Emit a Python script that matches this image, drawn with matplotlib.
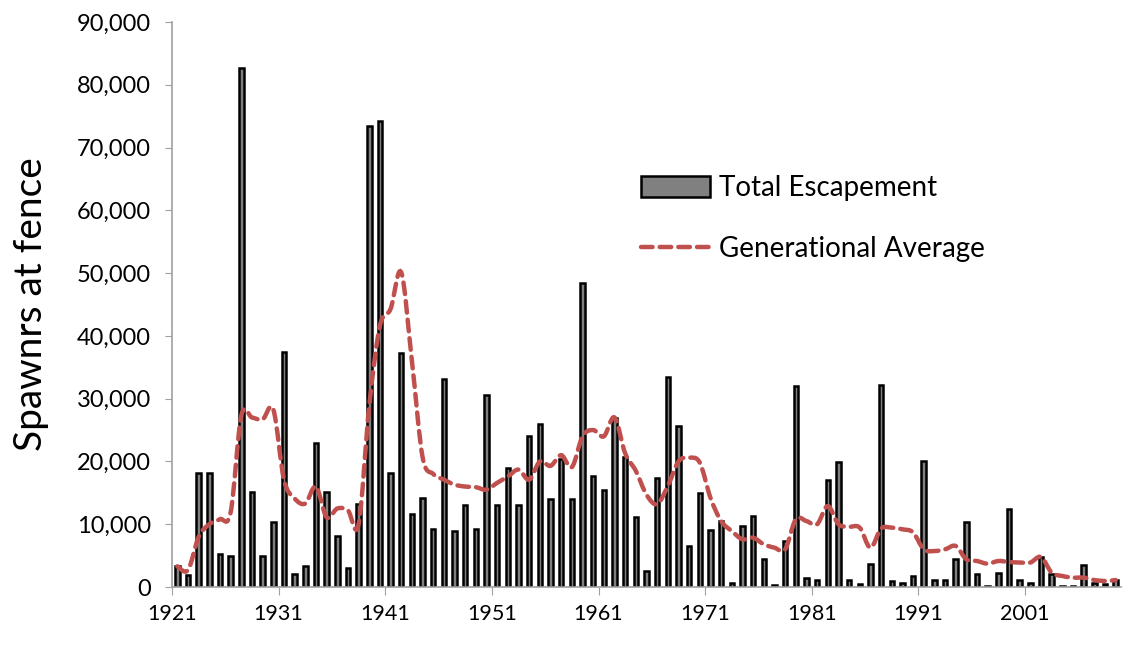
import matplotlib
matplotlib.use('Agg')
import matplotlib.pyplot as plt
from matplotlib.path import Path
from matplotlib.patches import PathPatch, Patch
from matplotlib.lines import Line2D
from matplotlib.ticker import FuncFormatter, FixedLocator

plt.rcParams['font.family'] = ['Lato', 'DejaVu Sans']

years = list(range(1921, 2010))

escapement = [
    3350, 1900, 18200, 18100, 5300, 4900, 82700, 15200, 4900, 10300,    # 1921-1930
    37400, 2000, 3300, 22900, 15200, 8200, 3000, 13200, 73500, 74200,   # 1931-1940
    18100, 37300, 11700, 14200, 9200, 33200, 8900, 13000, 9300, 30600,  # 1941-1950
    13000, 18900, 13000, 24100, 25900, 14000, 20400, 14000, 48500, 17700,  # 1951-1960
    15500, 27000, 20700, 11100, 2600, 17400, 33400, 25600, 6600, 15000,  # 1961-1970
    9100, 10500, 700, 9700, 11300, 4400, 300, 7300, 32000, 1500,        # 1971-1980
    1100, 17000, 19900, 1100, 500, 3600, 32100, 950, 600, 1750,         # 1981-1990
    20100, 1100, 1100, 4400, 10400, 2000, 150, 2200, 12400, 1100,       # 1991-2000
    600, 4700, 2100, 150, 150, 3450, 700, 400, 1050,                    # 2001-2009
]

gen_average = [
    3300, 2700, 8000, 10000, 10800, 11900, 27300, 27000, 26700, 28300,
    17100, 14100, 13300, 16000, 11100, 12500, 12200, 10000, 28900, 41600,
    44300, 50100, 36000, 20700, 18000, 17100, 16300, 16000, 15900, 15500,
    16600, 17600, 18700, 17100, 20000, 19300, 21000, 19100, 24000, 25000,
    24000, 27000, 21300, 18500, 14700, 13200, 16100, 20000, 20600, 19800,
    14200, 10500, 8900, 7600, 7850, 6800, 6260, 6000, 10780, 10500,
    10000, 12900, 10000, 9600, 9450, 6260, 9300, 9450, 9190, 8700,
    6000, 5730, 6000, 6530, 4400, 4140, 3710, 4140, 3980, 3900,
    3900, 4780, 2280, 1750, 1490, 1490, 1110, 960, 1110,
]

label_years = [1921, 1931, 1941, 1951, 1961, 1971, 1981, 1991, 2001]

bar_color = '#808080'
line_color = '#C0504D'
axis_color = '#A0A0A0'


def smooth_path(xs, ys):
    # cubic bezier through every point (Excel style smoothed line)
    verts = [(xs[0], ys[0])]
    codes = [Path.MOVETO]
    n = len(xs)
    for i in range(n - 1):
        x0, y0 = (xs[i - 1], ys[i - 1]) if i > 0 else (xs[i], ys[i])
        x1, y1 = xs[i], ys[i]
        x2, y2 = xs[i + 1], ys[i + 1]
        x3, y3 = (xs[i + 2], ys[i + 2]) if i + 2 < n else (x2, y2)
        verts += [(x1 + (x2 - x0) / 6, y1 + (y2 - y0) / 6),
                  (x2 - (x3 - x1) / 6, y2 - (y3 - y1) / 6),
                  (x2, y2)]
        codes += [Path.CURVE4] * 3
    return Path(verts, codes)


fig = plt.figure(figsize=(11.27, 6.56), dpi=100)
ax = fig.add_axes([172 / 1127, 1 - 587 / 656, (1121 - 172) / 1127, (587 - 22) / 656])

pos = list(range(len(years)))
ax.bar(pos, escapement, width=0.42, color=bar_color, edgecolor='black', linewidth=1.8, zorder=2)

patch = PathPatch(smooth_path(pos, gen_average), fill=False, edgecolor=line_color,
                  linewidth=3.2, linestyle=(0, (2.6, 1.6)), zorder=3)
patch.set_capstyle('round')
ax.add_patch(patch)

ax.set_xlim(-0.5, len(years) - 0.5)
ax.set_ylim(0, 90000)

ax.yaxis.set_major_locator(FixedLocator(range(0, 90001, 10000)))
ax.yaxis.set_major_formatter(FuncFormatter(lambda v, p: f'{v:,.0f}'))
ax.set_xticks([years.index(y) - 0.5 for y in label_years])
ax.set_xticklabels([str(y) for y in label_years])

for s in ['top', 'right']:
    ax.spines[s].set_visible(False)
for s in ['left', 'bottom']:
    ax.spines[s].set_color(axis_color)
    ax.spines[s].set_linewidth(1.2)

ax.tick_params(axis='y', direction='out', length=5, color=axis_color, labelsize=17, pad=10)
ax.tick_params(axis='x', direction='out', length=6, color=axis_color, labelsize=15.5, pad=6)

ax.set_ylabel('Spawnrs at fence', fontsize=28, labelpad=20)

handles = [Patch(facecolor=bar_color, edgecolor='black', linewidth=1.8),
           Line2D([], [], color=line_color, linewidth=3.2, linestyle=(0, (2.6, 1.6)),
                  dash_capstyle='round')]
fig.legend(handles, ['Total Escapement', 'Generational Average'],
           loc='upper left', bbox_to_anchor=(616 / 1127, 1 - 150 / 656),
           frameon=False, fontsize=20, handlelength=2.5, handleheight=0.8,
           handletextpad=0.3, labelspacing=1.25)

fig.savefig('out.png', dpi=100)
